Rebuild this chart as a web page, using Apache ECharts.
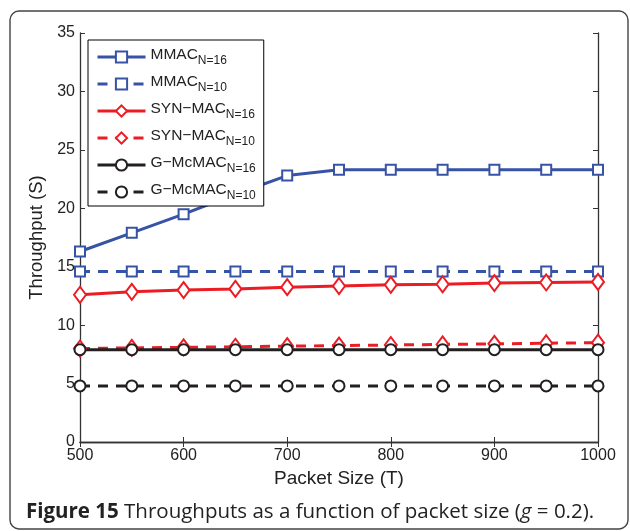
<!DOCTYPE html>
<html>
<head>
	<meta charset="UTF-8">
	<script type="text/javascript" src="https://cdn.jsdelivr.net/npm/echarts@6/dist/echarts.min.js"></script>
	<title></title>
	<style type="text/css">
		body{ margin:0; background:#fff; }
		#chart_box{ width:630px; height:531px; }
	</style>
</head>
<body>
<div id="chart_box"></div>
<script type="text/javascript">
// 数据
var packetSizes = [500, 550, 600, 650, 700, 750, 800, 850, 900, 950, 1000];
var mmac16 = [16.3, 17.9, 19.5, 21.2, 22.8, 23.3, 23.3, 23.3, 23.3, 23.3, 23.3];
var mmac10 = [14.6, 14.6, 14.6, 14.6, 14.6, 14.6, 14.6, 14.6, 14.6, 14.6, 14.6];
var syn16 = [12.6, 12.85, 13.0, 13.1, 13.25, 13.35, 13.45, 13.5, 13.6, 13.65, 13.7];
var syn10 = [8.0, 8.05, 8.1, 8.15, 8.2, 8.25, 8.3, 8.35, 8.4, 8.45, 8.5];
var gmc16 = [7.9, 7.9, 7.9, 7.9, 7.9, 7.9, 7.9, 7.9, 7.9, 7.9, 7.9];
var gmc10 = [4.8, 4.8, 4.8, 4.8, 4.8, 4.8, 4.8, 4.8, 4.8, 4.8, 4.8];
var yTicks = [0, 5, 10, 15, 20, 25, 30, 35];
var xTicks = [500, 600, 700, 800, 900, 1000];

var names = ['MMAC_N=16', 'MMAC_N=10', 'SYN-MAC_N=16', 'SYN-MAC_N=10', 'G-McMAC_N=16', 'G-McMAC_N=10'];

var blue = '#3753a5', red = '#ec1c24', black = '#231f20';
var font = 'Liberation Sans';

function pairs(ys){
	var out = [];
	for (var i = 0; i < packetSizes.length; i++) out.push([packetSizes[i], ys[i]]);
	return out;
}

function mkSeries(name, ys, color, dashed, symbol, size){
	return {
		name: name,
		type: 'line',
		data: pairs(ys),
		symbol: symbol,
		symbolSize: size,
		showSymbol: true,
		lineStyle: { color: color, width: 3, type: dashed ? [10, 8] : 'solid' },
		itemStyle: { color: color, borderWidth: 2.5 },
		emphasis: { disabled: true },
		animation: false
	};
}

var chart = echarts.init(document.getElementById('chart_box'));

var option = {
	animation: false,
	grid: { left: 80, right: 32, top: 33, bottom: 89 },
	legend: {
		orient: 'vertical',
		left: 88, top: 40,
		data: names,
		backgroundColor: '#fff',
		borderColor: '#000',
		borderWidth: 1,
		padding: [5, 8, 4, 8],
		itemWidth: 48,
		itemHeight: 14,
		itemGap: 5,
		selectedMode: false,
		lineStyle: { width: 3 },
		formatter: function(name){
			var p = name.split('_');
			return '{a|' + p[0].replace(/-/g, '\u2212') + '}{b|' + p[1] + '}';
		},
		textStyle: {
			fontFamily: font,
			color: '#222',
			rich: {
				a: { fontSize: 15.5, fontFamily: font, color: '#222', lineHeight: 20, verticalAlign: 'top', padding: [0, 0, 4, 0] },
				b: { fontSize: 12, fontFamily: font, color: '#222', lineHeight: 20, verticalAlign: 'bottom', padding: [10, 0, 0, 0] }
			}
		}
	},
	xAxis: [{
		type: 'value',
		min: 500, max: 1000, interval: 100,
		name: 'Packet Size (T)',
		nameLocation: 'middle',
		nameGap: 25,
		nameTextStyle: { fontFamily: font, fontSize: 19, color: '#222' },
		axisLine: { lineStyle: { color: '#333', width: 1.3 } },
		axisTick: { inside: true, length: 5, lineStyle: { color: '#333' } },
		axisLabel: { fontFamily: font, fontSize: 16, color: '#222', margin: 6,
			customValues: xTicks, formatter: function(v){ return String(v); } },
		splitLine: { show: false }
	}, {
		type: 'value', position: 'top',
		min: 500, max: 1000, interval: 100,
		axisLine: { lineStyle: { color: '#333', width: 1.3 } },
		axisTick: { inside: true, length: 5, lineStyle: { color: '#333' } },
		axisLabel: { show: false },
		splitLine: { show: false }
	}],
	yAxis: [{
		type: 'value',
		min: 0, max: 35, interval: 5,
		name: 'Throughput (S)',
		nameLocation: 'middle',
		nameGap: 26,
		nameTextStyle: { fontFamily: font, fontSize: 18.5, color: '#222' },
		axisLine: { show: true, lineStyle: { color: '#333', width: 1.3 } },
		axisTick: { show: true, inside: true, length: 5, lineStyle: { color: '#333' } },
		axisLabel: { fontFamily: font, fontSize: 16, color: '#222', margin: 5,
			customValues: yTicks },
		splitLine: { show: false }
	}, {
		type: 'value', position: 'right',
		min: 0, max: 35, interval: 5,
		axisLine: { show: true, lineStyle: { color: '#333', width: 1.3 } },
		axisTick: { show: true, inside: true, length: 5, lineStyle: { color: '#333' } },
		axisLabel: { show: false },
		splitLine: { show: false }
	}],
	graphic: [{
		type: 'rect',
		shape: { x: 10, y: 11, width: 618, height: 518, r: 9 },
		style: { fill: 'none', stroke: '#444', lineWidth: 1.4 },
		silent: true, z: -1
	}, {
		type: 'text',
		left: 26, top: 502,
		style: {
			text: '{b|Figure 15} Throughputs as a function of packet size ({i|g} = 0.2).',
			font: '20.5px "Open Sans"',
			fill: '#222',
			rich: {
				b: { fontFamily: 'Open Sans', fontSize: 20.5, fontWeight: 'bold', fill: '#222' },
				i: { fontFamily: 'Open Sans', fontSize: 20.5, fontStyle: 'italic', fill: '#222' }
			}
		}
	}],
	series: [
		mkSeries(names[0], mmac16, blue, false, 'emptyRect', 10),
		mkSeries(names[1], mmac10, blue, true, 'emptyRect', 10),
		mkSeries(names[2], syn16, red, false, 'emptyDiamond', [12, 16]),
		mkSeries(names[3], syn10, red, true, 'emptyDiamond', [12, 16]),
		mkSeries(names[4], gmc16, black, false, 'emptyCircle', 11),
		mkSeries(names[5], gmc10, black, true, 'emptyCircle', 11)
	]
};
chart.setOption(option);
</script>
</body>
</html>
